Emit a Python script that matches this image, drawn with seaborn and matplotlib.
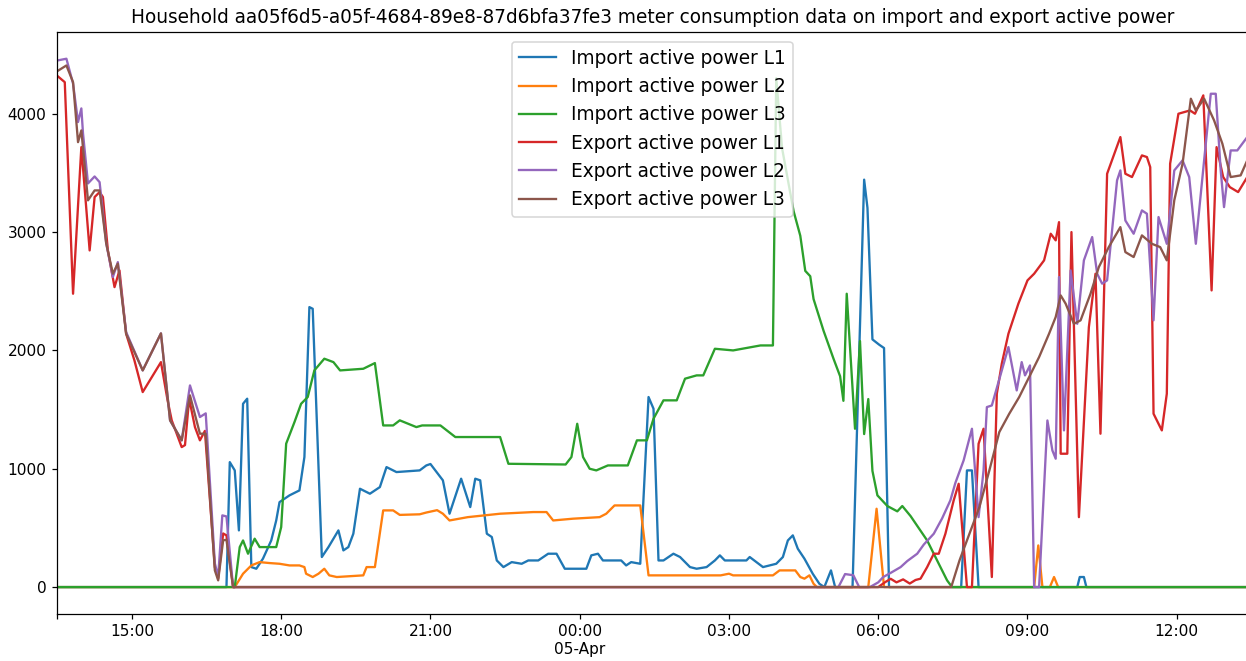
import matplotlib
matplotlib.use("Agg")
import matplotlib.pyplot as plt
import matplotlib.dates as mdates
from matplotlib.ticker import FuncFormatter, FixedLocator
import pandas as pd
import seaborn as sns

HOUSEHOLD = "aa05f6d5-a05f-4684-89e8-87d6bfa37fe3"

# Meter readings (W) as (clock time, value) pairs; the window runs 13:30 on 4 Apr to 13:25 on 5 Apr.
import_l1 = [
    ("13:30", 0), ("16:54", 0), ("16:58", 1056), ("17:04", 986), ("17:09", 479), ("17:14", 1549),
    ("17:19", 1592), ("17:24", 169), ("17:30", 155), ("17:38", 240), ("17:48", 394), ("17:54", 563),
    ("17:58", 718), ("18:10", 775), ("18:22", 817), ("18:28", 1099), ("18:34", 2366), ("18:38", 2352),
    ("18:49", 254), ("18:57", 338), ("19:09", 479), ("19:15", 310), ("19:21", 338), ("19:27", 451),
    ("19:35", 831), ("19:47", 789), ("19:59", 845), ("20:07", 1014), ("20:19", 972), ("20:47", 986),
    ("20:55", 1028), ("21:00", 1040), ("21:15", 902), ("21:23", 620), ("21:37", 916), ("21:48", 676),
    ("21:54", 916), ("22:00", 902), ("22:08", 451), ("22:14", 423), ("22:20", 225), ("22:28", 169),
    ("22:38", 211), ("22:50", 197), ("22:58", 225), ("23:10", 225), ("23:22", 282), ("23:32", 282),
    ("23:42", 155), ("00:08", 155), ("00:14", 268), ("00:22", 282), ("00:28", 225), ("00:50", 225),
    ("00:56", 183), ("01:02", 211), ("01:13", 197), ("01:23", 1606), ("01:29", 1507), ("01:35", 225),
    ("01:41", 225), ("01:53", 282), ("02:01", 254), ("02:13", 169), ("02:21", 155), ("02:33", 169),
    ("02:43", 225), ("02:49", 268), ("02:55", 225), ("03:21", 225), ("03:25", 254), ("03:41", 169),
    ("03:57", 197), ("04:05", 254), ("04:11", 394), ("04:17", 437), ("04:23", 324), ("04:31", 240),
    ("04:41", 113), ("04:49", 28), ("04:55", 0), ("05:03", 141), ("05:08", 0), ("05:29", 0),
    ("05:43", 3443), ("05:47", 3205), ("05:53", 2093), ("06:01", 2049), ("06:07", 2020), ("06:13", 0),
    ("07:40", 0), ("07:47", 986), ("07:53", 986), ("08:01", 0), ("10:00", 0), ("10:03", 85),
    ("10:08", 85), ("10:11", 0), ("13:25", 0),
]

import_l2 = [
    ("13:30", 0), ("17:04", 0), ("17:14", 113), ("17:24", 183), ("17:34", 211), ("17:46", 203),
    ("17:58", 197), ("18:10", 183), ("18:22", 183), ("18:28", 169), ("18:30", 113), ("18:38", 85),
    ("18:45", 113), ("18:52", 155), ("18:58", 99), ("19:07", 85), ("19:39", 99), ("19:43", 169),
    ("19:53", 169), ("20:03", 648), ("20:15", 648), ("20:23", 610), ("20:47", 615), ("20:55", 630),
    ("21:08", 650), ("21:15", 620), ("21:23", 563), ("21:45", 591), ("22:24", 620), ("23:04", 634),
    ("23:20", 634), ("23:28", 563), ("23:52", 578), ("00:24", 591), ("00:32", 620), ("00:42", 690),
    ("01:13", 690), ("01:23", 99), ("02:50", 99), ("03:00", 113), ("03:05", 99), ("03:53", 99),
    ("04:01", 141), ("04:20", 141), ("04:26", 85), ("04:31", 71), ("04:37", 99), ("04:42", 28),
    ("04:46", 0), ("05:48", 0), ("05:58", 662), ("06:07", 0), ("09:08", 0), ("09:13", 352),
    ("09:18", 0), ("09:27", 0), ("09:32", 85), ("09:37", 0), ("13:25", 0),
]

import_l3 = [
    ("13:30", 0), ("17:04", 0), ("17:10", 338), ("17:14", 394), ("17:20", 282), ("17:28", 409),
    ("17:34", 338), ("17:54", 338), ("18:00", 507), ("18:06", 1212), ("18:16", 1394), ("18:24", 1549),
    ("18:32", 1606), ("18:40", 1831), ("18:52", 1930), ("19:03", 1901), ("19:11", 1831), ("19:39", 1845),
    ("19:53", 1893), ("20:03", 1366), ("20:15", 1366), ("20:23", 1409), ("20:43", 1352), ("20:50", 1366),
    ("21:12", 1366), ("21:30", 1268), ("22:24", 1268), ("22:34", 1042), ("23:43", 1036), ("23:50", 1099),
    ("23:57", 1380), ("00:04", 1099), ("00:12", 1000), ("00:20", 986), ("00:34", 1028), ("00:58", 1028),
    ("01:09", 1240), ("01:21", 1240), ("01:29", 1423), ("01:41", 1578), ("01:57", 1578), ("02:07", 1761),
    ("02:21", 1789), ("02:29", 1789), ("02:43", 2014), ("03:05", 2000), ("03:38", 2042), ("03:53", 2042),
    ("03:57", 4300), ("04:04", 3710), ("04:18", 3175), ("04:26", 2969), ("04:32", 2672), ("04:38", 2627),
    ("04:42", 2434), ("04:54", 2167), ("05:06", 1931), ("05:14", 1782), ("05:18", 1574), ("05:22", 2479),
    ("05:32", 1338), ("05:38", 2079), ("05:43", 1293), ("05:48", 1589), ("05:53", 982), ("05:59", 775),
    ("06:11", 685), ("06:23", 640), ("06:29", 685), ("06:39", 600), ("06:59", 394), ("07:11", 225),
    ("07:23", 57), ("07:29", 0), ("13:25", 0),
]

export_l1 = [
    ("13:30", 4320), ("13:39", 4267), ("13:49", 2479), ("13:59", 3718), ("14:09", 2845), ("14:15", 3296),
    ("14:21", 3338), ("14:25", 3296), ("14:31", 2845), ("14:39", 2535), ("14:45", 2676), ("14:53", 2141),
    ("15:03", 1916), ("15:13", 1648), ("15:35", 1901), ("15:43", 1578), ("15:48", 1409), ("16:00", 1183),
    ("16:04", 1200), ("16:09", 1592), ("16:16", 1352), ("16:22", 1240), ("16:28", 1320), ("16:40", 169),
    ("16:44", 73), ("16:50", 453), ("16:54", 437), ("17:02", 0), ("06:00", 0), ("06:08", 40),
    ("06:15", 70), ("06:22", 40), ("06:30", 65), ("06:38", 30), ("06:45", 60), ("06:51", 71),
    ("06:59", 169), ("07:07", 282), ("07:13", 282), ("07:21", 451), ("07:31", 733), ("07:37", 873),
    ("07:47", 0), ("07:53", 0), ("08:01", 1211), ("08:07", 1338), ("08:17", 85), ("08:23", 1634),
    ("08:29", 1888), ("08:37", 2141), ("08:49", 2395), ("09:00", 2592), ("09:08", 2648), ("09:20", 2761),
    ("09:28", 2986), ("09:34", 2930), ("09:38", 3084), ("09:40", 1127), ("09:48", 1127), ("09:53", 3000),
    ("10:02", 591), ("10:14", 2197), ("10:22", 2648), ("10:28", 1296), ("10:36", 3493), ("10:52", 3803),
    ("10:58", 3493), ("11:06", 3465), ("11:18", 3648), ("11:24", 3634), ("11:28", 3549), ("11:32", 1465),
    ("11:42", 1324), ("11:48", 1634), ("11:52", 3578), ("12:02", 4000), ("12:16", 4028), ("12:22", 4000),
    ("12:32", 4155), ("12:42", 2507), ("12:48", 3718), ("12:56", 3465), ("13:04", 3380), ("13:14", 3338),
    ("13:25", 3465),
]

export_l2 = [
    ("13:30", 4450), ("13:41", 4465), ("13:49", 4254), ("13:55", 3930), ("13:59", 4045), ("14:01", 3834),
    ("14:07", 3411), ("14:15", 3470), ("14:21", 3422), ("14:29", 2904), ("14:37", 2620), ("14:43", 2746),
    ("14:53", 2155), ("15:13", 1831), ("15:35", 2144), ("15:46", 1409), ("16:00", 1240), ("16:10", 1704),
    ("16:22", 1437), ("16:29", 1468), ("16:40", 200), ("16:44", 85), ("16:49", 606), ("16:54", 597),
    ("17:02", 0), ("05:12", 0), ("05:20", 110), ("05:30", 100), ("05:37", 0), ("05:50", 0),
    ("06:00", 40), ("06:06", 85), ("06:15", 120), ("06:27", 169), ("06:35", 220), ("06:47", 282),
    ("06:55", 360), ("07:07", 451), ("07:17", 580), ("07:27", 733), ("07:33", 880), ("07:43", 1071),
    ("07:53", 1338), ("08:01", 591), ("08:07", 986), ("08:11", 1521), ("08:17", 1535), ("08:37", 2028),
    ("08:47", 1662), ("08:53", 1901), ("08:57", 1789), ("09:03", 1873), ("09:08", 0), ("09:14", 0),
    ("09:24", 1408), ("09:30", 1155), ("09:34", 1085), ("09:38", 2620), ("09:44", 1324), ("09:52", 2676),
    ("10:00", 2225), ("10:08", 2761), ("10:18", 2958), ("10:24", 2648), ("10:30", 2564), ("10:36", 2592),
    ("10:48", 3437), ("10:52", 3521), ("10:58", 3098), ("11:08", 2986), ("11:18", 3183), ("11:24", 3155),
    ("11:32", 2254), ("11:38", 3127), ("11:48", 2901), ("11:57", 3521), ("12:07", 3606), ("12:15", 3465),
    ("12:23", 2901), ("12:33", 3606), ("12:41", 4169), ("12:47", 4169), ("12:53", 3521), ("12:57", 3211),
    ("13:05", 3690), ("13:13", 3690), ("13:25", 3803),
]

export_l3 = [
    ("13:30", 4360), ("13:41", 4408), ("13:49", 4267), ("13:55", 3760), ("13:59", 3859), ("14:07", 3268),
    ("14:15", 3352), ("14:21", 3352), ("14:29", 2904), ("14:37", 2648), ("14:43", 2733), ("14:53", 2141),
    ("15:13", 1831), ("15:35", 2144), ("15:46", 1409), ("16:00", 1240), ("16:10", 1620), ("16:22", 1296),
    ("16:29", 1296), ("16:40", 141), ("16:44", 57), ("16:50", 395), ("16:54", 400), ("17:02", 0),
    ("07:28", 0), ("07:38", 225), ("07:50", 451), ("08:02", 676), ("08:14", 986), ("08:26", 1310),
    ("08:38", 1465), ("08:50", 1606), ("09:02", 1775), ("09:14", 1944), ("09:26", 2141), ("09:34", 2282),
    ("09:40", 2465), ("09:46", 2395), ("09:56", 2225), ("10:04", 2254), ("10:16", 2479), ("10:26", 2704),
    ("10:38", 2873), ("10:52", 3042), ("10:58", 2831), ("11:08", 2789), ("11:18", 2972), ("11:30", 2901),
    ("11:40", 2873), ("11:48", 2761), ("11:57", 3268), ("12:07", 3578), ("12:17", 4127), ("12:23", 4028),
    ("12:33", 4127), ("12:45", 3944), ("12:55", 3747), ("13:05", 3465), ("13:17", 3479), ("13:25", 3606),
]

series_names = [
    "Import active power L1", "Import active power L2", "Import active power L3",
    "Export active power L1", "Export active power L2", "Export active power L3",
]
series_data = [import_l1, import_l2, import_l3, export_l1, export_l2, export_l3]


def stamp(hhmm):
    h, m = (int(p) for p in hhmm.split(":"))
    day = 4 if (h, m) >= (13, 30) else 5
    return pd.Timestamp(2022, 4, day, h, m)


rows = []
for name, points in zip(series_names, series_data):
    for t, v in points:
        rows.append({"time": stamp(t), "power": v, "series": name})
df = pd.DataFrame(rows)

DPI = 111
fig = plt.figure(figsize=(1246 / DPI, 661 / DPI), dpi=DPI)
ax = fig.add_axes([57.3 / 1246, (661 - 613.5) / 661, 1.0 - 57.3 / 1246 + 0.001, (613.5 - 32.3) / 661])

palette = sns.color_palette("tab10", 6)
sns.lineplot(data=df, x="time", y="power", hue="series", hue_order=series_names,
             palette=palette, estimator=None, linewidth=1.5, ax=ax)

t0, t1 = df["time"].min(), df["time"].max()
ax.set_xlim(t0, t1)

major = list(pd.date_range(t0.ceil("3h"), t1, freq="3h"))
tick_pos = [mdates.date2num(t0)] + [mdates.date2num(t) for t in major]
start_num = mdates.date2num(t0)


def time_label(x, pos):
    if abs(x - start_num) < 1e-9:
        return ""
    d = mdates.num2date(x)
    s = d.strftime("%H:%M")
    if d.hour == 0 and d.minute == 0:
        s += "\n" + d.strftime("%d-%b")
    return s


ax.xaxis.set_major_locator(FixedLocator(tick_pos))
ax.xaxis.set_major_formatter(FuncFormatter(time_label))
ax.xaxis.set_minor_locator(FixedLocator([]))
ax.tick_params(axis="both", labelsize=10)

ax.set_xlabel("")
ax.set_ylabel("")
ax.set_title(f"Household {HOUSEHOLD} meter consumption data on import and export active power",
             fontsize=12)

handles, labels = ax.get_legend_handles_labels()
ax.legend(handles, labels, loc="upper center", fontsize=12)

fig.savefig("out.png", dpi=DPI)
